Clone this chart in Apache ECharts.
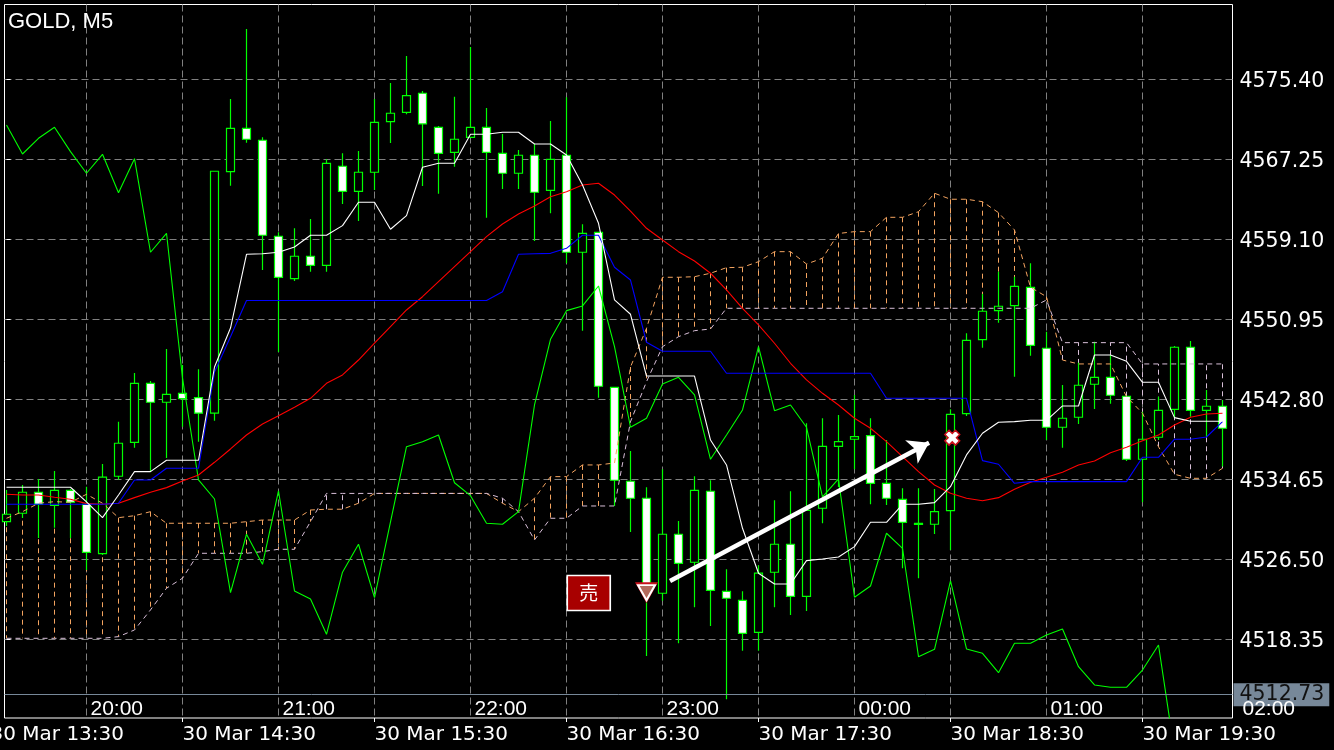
<!DOCTYPE html>
<html><head><meta charset="utf-8">
<style>html,body{margin:0;padding:0;background:#000;width:1334px;height:750px;overflow:hidden}#c{width:1334px;height:750px}</style>
<script src="https://cdn.jsdelivr.net/npm/echarts@6/dist/echarts.min.js"></script>
</head><body><div id="c"></div>
<script>
// [open, close, low, high] per 5 minute bar
const candles = [
[4530.35,4531.11,4529.91,4533.58],[4531.21,4533.35,4530.73,4534.09],[4533.35,4532.12,4528.69,4534.70],[4532.02,4533.55,4529.74,4535.52],
[4533.55,4532.33,4528.69,4533.68],[4532.12,4527.23,4525.43,4533.92],[4527.09,4534.88,4526.96,4536.23],[4534.98,4538.34,4534.63,4540.54],
[4538.44,4544.45,4537.89,4545.50],[4544.45,4542.52,4535.45,4544.69],[4542.52,4543.33,4536.84,4547.95],[4543.43,4542.88,4540.03,4546.32],
[4542.98,4541.40,4538.50,4545.88],[4541.40,4566.05,4540.64,4566.05],[4566.01,4570.43,4564.58,4573.41],[4570.43,4569.31,4568.96,4580.55],
[4569.21,4559.53,4555.99,4569.51],[4559.43,4555.25,4547.64,4559.83],[4555.11,4557.39,4554.87,4560.24],[4557.39,4556.47,4555.82,4561.19],
[4556.47,4566.86,4555.82,4567.27],[4566.56,4564.01,4562.72,4567.88],[4564.01,4565.95,4560.99,4568.12],[4565.95,4571.04,4564.14,4573.41],
[4571.10,4571.96,4568.93,4575.04],[4572.06,4573.75,4571.86,4577.79],[4574.00,4570.87,4564.55,4574.23],[4570.53,4567.88,4563.77,4570.66],
[4567.98,4569.31,4566.52,4573.65],[4569.51,4570.53,4569.44,4578.71],[4570.53,4567.98,4561.32,4572.50],[4567.88,4565.85,4564.25,4569.85],
[4565.85,4567.68,4564.25,4568.22],[4567.68,4563.91,4558.95,4568.83],[4564.11,4567.27,4561.77,4571.17],[4567.68,4557.80,4556.68,4573.59],
[4557.80,4559.73,4549.81,4560.65],[4559.83,4544.15,4542.98,4559.86],[4544.04,4534.57,4531.95,4544.07],[4534.47,4532.74,4529.30,4537.55],
[4532.74,4523.39,4516.67,4533.86],[4523.06,4529.07,4522.30,4535.69],[4529.07,4526.11,4517.96,4530.42],[4526.22,4533.55,4521.63,4534.98],
[4533.45,4523.36,4519.73,4534.57],[4523.26,4522.55,4512.26,4525.50],[4522.34,4518.98,4517.21,4523.26],[4519.08,4525.10,4517.21,4525.91],
[4525.20,4528.05,4521.63,4532.53],[4528.05,4522.75,4520.85,4533.45],[4522.75,4531.51,4521.25,4540.38],[4531.72,4538.03,4530.19,4540.89],
[4538.03,4538.50,4533.89,4541.22],[4538.75,4539.01,4535.69,4543.26],[4539.11,4534.26,4532.12,4540.89],[4534.26,4532.74,4532.05,4538.67],
[4532.63,4530.29,4525.60,4533.75],[4530.07,4530.17,4524.59,4533.75],[4530.09,4531.37,4529.10,4533.68],[4531.47,4541.29,4527.47,4541.80],
[4541.35,4548.83,4541.12,4549.54],[4548.89,4551.79,4548.08,4553.55],[4551.85,4552.30,4550.62,4555.82],[4552.36,4554.33,4545.12,4555.31],
[4554.23,4548.32,4547.26,4556.68],[4548.02,4539.97,4538.67,4549.71],[4539.97,4540.89,4537.89,4544.28],[4540.99,4544.25,4540.30,4546.55],
[4544.35,4545.06,4541.83,4548.69],[4545.06,4543.23,4542.37,4547.33],[4543.13,4536.71,4536.54,4543.16],[4536.71,4538.75,4532.33,4541.56],
[4538.95,4541.70,4538.67,4543.09],[4541.80,4548.12,4540.92,4548.25],[4548.12,4541.70,4541.05,4548.76],[4541.70,4542.11,4538.98,4543.77],
[4542.11,4539.87,4535.96,4542.75]];
const greenLine = [4570.77,4567.81,4569.41,4570.53,4568.05,4565.85,4567.78,4563.87,4567.33,4557.80,4559.73,4544.99,4534.60,4532.66,4523.12,4529.07,4526.01,4533.48,4523.29,4522.48,
4518.88,4525.20,4528.05,4522.61,4530.32,4537.99,4538.50,4539.18,4534.32,4533.00,4530.19,4530.09,4531.37,4542.24,4548.93,4551.85,4552.33,4554.36,4548.18,4539.97,
4540.89,4544.38,4545.06,4543.26,4536.71,4539.18,4541.73,4548.18,4541.66,4542.24,4539.97,4532.87,4534.70,4522.65,4523.80,4529.17,4527.64,4516.60,4517.35,4524.31,
4517.38,4516.94,4514.97,4517.96,4517.96,4518.81,4519.42,4515.58,4513.72,4513.48,4513.48,4515.24,4517.79,4506.92];
const whiteLine = [4533.86,4533.86,4533.86,4533.86,4533.86,4532.36,4530.76,4533.07,4535.45,4535.45,4536.61,4536.61,4536.61,4546.11,4550.08,4557.59,4557.65,4557.80,4558.34,4559.53,
4559.53,4560.51,4562.89,4562.89,4560.14,4561.53,4566.46,4566.86,4566.86,4569.82,4569.82,4570.02,4570.02,4568.83,4568.83,4567.71,4564.65,4560.75,4552.94,4551.48,
4545.19,4545.19,4545.19,4545.19,4538.67,4536.13,4529.68,4525.10,4524.00,4524.00,4526.38,4526.55,4526.76,4527.81,4530.29,4530.29,4532.12,4532.12,4532.29,4533.92,
4537.15,4539.36,4540.48,4540.54,4540.68,4540.68,4542.14,4542.14,4547.33,4547.33,4546.69,4544.55,4544.55,4540.95,4540.58,4540.58,4540.58];
const blueLine = [4532.12,4532.12,4532.12,4532.12,4532.12,4532.12,4532.12,4532.23,4534.60,4534.60,4535.79,4535.79,4535.79,4545.60,4549.20,
4552.89,4552.89,4552.89,4552.89,4552.89,4552.89,4552.89,4552.89,4552.89,4552.89,4552.89,4552.89,4552.89,4552.89,4552.89,4552.89,
4553.78,4557.59,4557.65,4557.69,4558.20,4559.53,4559.53,4556.27,4554.97,4548.63,4547.71,4547.71,4547.71,4547.71,
4545.47,4545.47,4545.47,4545.47,4545.47,4545.47,4545.47,4545.47,4545.47,4545.47,4542.92,4542.92,4542.92,4542.92,4542.92,4542.92,
4536.57,4536.20,4534.26,4534.43,4534.43,4534.43,4534.43,4534.43,4534.43,4534.43,4536.91,4536.91,4538.75,4538.75,4538.98,4540.54];
const redLine = [4533.14,4533.07,4533.07,4532.84,4532.63,4532.19,4532.12,4532.23,4532.80,4533.35,4533.82,4534.50,4535.11,4536.40,4537.76,4539.18,4540.30,4541.15,4542.01,4542.92,
4544.45,4545.30,4546.82,4548.53,4550.22,4551.92,4553.27,4554.80,4556.33,4557.86,4559.39,4560.68,4561.70,4562.51,4563.46,4563.97,4564.65,4564.83,4563.63,4562.00,
4560.24,4559.05,4557.86,4556.91,4555.66,4553.96,4552.09,4550.39,4548.53,4546.49,4544.79,4543.43,4542.24,4540.89,4539.87,4538.50,4536.97,4535.45,4534.09,4533.25,
4532.74,4532.49,4532.80,4533.65,4534.37,4534.88,4535.38,4536.13,4536.54,4537.38,4537.93,4538.60,4539.18,4540.20,4540.99,4541.32,4541.40];
const spanA = [4530.70,4531.37,4532.23,4532.39,4532.33,4533.14,4532.23,4530.76,4530.96,4531.37,4530.19,4530.19,4530.19,4530.19,4530.19,4530.35,4530.52,4530.52,4530.52,4531.54,
4531.62,4531.62,4532.23,4533.23,4533.23,4533.23,4533.23,4533.23,4533.23,4533.23,4533.23,4532.23,4531.37,4532.74,4534.94,4534.94,4536.13,4536.13,4536.33,4546.11,
4550.05,4555.25,4555.25,4555.31,4555.66,4556.23,4556.27,4556.84,4557.86,4557.86,4556.60,4557.19,4559.71,4559.90,4559.90,4561.36,4561.36,4561.93,4563.81,4563.20,
4563.20,4562.95,4561.83,4560.07,4554.23,4553.27,4546.82,4546.42,4546.42,4546.42,4543.09,4541.40,4537.99,4535.18,4534.77,4534.77,4535.79];
const spanB = [4518.47,4518.47,4518.47,4518.47,4518.47,4518.47,4518.47,4518.64,4519.32,4521.36,4523.57,4524.59,4527.13,4527.13,4527.13,4527.13,4527.30,4527.54,4527.54,4530.35,
4533.23,4533.23,4533.23,4533.23,4533.23,4533.23,4533.23,4533.23,4533.23,4533.23,4533.23,4532.74,4531.37,4528.49,4530.70,4530.70,4531.95,4531.95,4531.95,4540.54,
4544.61,4548.18,4549.20,4549.81,4549.98,4552.09,4552.09,4552.09,4552.09,4552.09,4552.09,4552.09,4552.09,4552.09,4552.09,4552.09,4552.09,4552.09,4552.09,4552.09,
4552.09,4552.09,4552.09,4552.09,4552.09,4552.94,4548.59,4548.59,4548.59,4548.59,4548.59,4546.42,4546.42,4546.42,4546.42,4546.42,4546.42];
const priceTicks = [4518.35,4526.50,4534.65,4542.80,4550.95,4559.10,4567.25,4575.40];
const gridBars = [5,11,17,23,29,35,41,47,53,59,65,71];
const hourBars = [5,17,29,41,53,65,77];
const hourLabels = ['20:00','21:00','22:00','23:00','00:00','01:00','02:00'];
const dateBars = [-1,11,23,35,47,59,71];
const dateLabels = ['30 Mar 13:30','30 Mar 14:30','30 Mar 15:30','30 Mar 16:30','30 Mar 17:30','30 Mar 18:30','30 Mar 19:30'];
const bidPrice = 4512.73;
const arrowLine = [[41.47,4524.31],[57.66,4538.40]];
const sellMark = [40,4523.12];
const closeMark = [59.11,4538.91];
const sellTag = [36.39,4523.09];

const LIME='#00ff00', ORANGE='#f4a460', THISTLE='#d8bfd8', GRID='#808080', SLATE='#778899';
const sans='"Liberation Sans",sans-serif', wide='"DejaVu Sans",sans-serif';
const pairs = a => a.map((v,i)=>[i,v]);
const line = (name,arr,color,extra) => Object.assign({name,type:'line',data:pairs(arr),showSymbol:false,symbol:'none',silent:true,
  lineStyle:{color,width:1.1},itemStyle:{color},clip:true},extra||{});

const chart = echarts.init(document.getElementById('c'),null,{renderer:'canvas'});
chart.setOption({
  animation:false, backgroundColor:'#000',
  title:{text:'GOLD, M5',left:8,top:11,padding:0,textStyle:{color:'#fff',fontFamily:sans,fontWeight:'normal',fontSize:22}},
  grid:[
    {left:4.5,top:4.5,width:1228,height:713.5,show:true,borderColor:'#fff',borderWidth:1,backgroundColor:'#000',outerBoundsMode:'none'},
    {left:-9.5,top:4.5,width:1343.5,height:713.5,show:false,outerBoundsMode:'none'}
  ],
  xAxis:[
    {type:'value',gridIndex:0,position:'bottom',min:-0.125,max:76.625,axisLine:{show:false},axisLabel:{show:false},
     axisTick:{show:false,customValues:gridBars},
     splitLine:{show:true,lineStyle:{color:GRID,type:[7,4],width:1}}},
    {type:'value',gridIndex:1,position:'bottom',min:-1,max:82.96875,z:20,axisLine:{show:false},splitLine:{show:false},
     axisTick:{show:true,length:4,lineStyle:{color:'#fff'},customValues:dateBars},
     axisLabel:{show:true,customValues:dateBars,color:'#fff',fontFamily:wide,fontSize:20,align:'left',margin:7,
       formatter:v=>dateLabels[dateBars.indexOf(v)]}},
    {type:'value',gridIndex:1,position:'bottom',min:-1,max:82.96875,z:20,axisLine:{show:false},splitLine:{show:false},
     axisTick:{show:false},
     axisLabel:{show:true,inside:true,customValues:hourBars,color:'#fff',fontFamily:sans,fontSize:21,align:'left',margin:-2,padding:[0,0,0,4],
       formatter:v=>hourLabels[hourBars.indexOf(v)]}}
  ],
  yAxis:[
    {type:'value',gridIndex:0,position:'right',min:4510.35,max:4583.04,axisLine:{show:false},
     axisTick:{show:true,length:4,lineStyle:{color:'#fff'},customValues:priceTicks},
     axisLabel:{show:true,customValues:priceTicks,color:'#fff',fontFamily:wide,fontSize:20.5,margin:7,verticalAlign:'top',lineHeight:5,formatter:v=>v.toFixed(2)},
     splitLine:{show:true,lineStyle:{color:GRID,type:[7,4],width:1}}},
    {type:'value',gridIndex:1,min:4510.35,max:4583.04,show:false}
  ],
  series:[
    {name:'GOLD',type:'candlestick',data:candles.map((c,i)=>[i,c[0],c[1],c[2],c[3]]),barWidth:8,silent:true,clip:true,
     itemStyle:{color:'#000',color0:'#fff',borderColor:LIME,borderColor0:LIME,borderWidth:1.2}},
    {name:'hatch',type:'custom',silent:true,clip:true,data:spanA.map((a,i)=>[i,a,spanB[i]]),encode:{x:0,y:[1,2]},
     renderItem:(p,api)=>{const a=api.coord([api.value(0),api.value(1)]),b=api.coord([api.value(0),api.value(2)]);
       return {type:'line',shape:{x1:a[0],y1:a[1],x2:b[0],y2:b[1]},
         style:{stroke:api.value(1)>=api.value(2)?ORANGE:THISTLE,lineWidth:1,lineDash:[5,4],fill:null}};}},
    line('Senkou A',spanA,ORANGE,{lineStyle:{color:ORANGE,width:1,type:[5,4]}}),
    line('Senkou B',spanB,THISTLE,{lineStyle:{color:THISTLE,width:1,type:[5,4]}}),
    line('Chikou',greenLine,LIME),
    line('MA',redLine,'#ff0000'),
    line('Kijun',blueLine,'#0000ff'),
    line('Tenkan',whiteLine,'#ffffff',{
      markLine:{silent:true,symbol:'none',animation:false,
        lineStyle:{color:SLATE,width:1,type:'solid'},
        label:{show:true,position:'end',formatter:bidPrice.toFixed(2),color:'#111',backgroundColor:SLATE,fontFamily:wide,fontSize:20.5,
          padding:[1,5,1,6],distance:1},
        data:[{yAxis:bidPrice}]}}),
    {name:'Arrow',type:'line',data:[],silent:true,
     markLine:{silent:true,symbol:['none','arrow'],symbolSize:20,animation:false,lineStyle:{color:'#fff',width:4.5,type:'solid'},label:{show:false},
       data:[[{coord:arrowLine[0]},{coord:arrowLine[1]}]]}},
    {name:'sellRed',type:'scatter',data:[sellMark],symbol:'triangle',symbolRotate:180,symbolSize:[23,21],silent:true,z:6,itemStyle:{color:'#c8101a',opacity:1}},
    {name:'sellWhite',type:'scatter',data:[sellMark],symbol:'triangle',symbolRotate:180,symbolSize:[17,15],silent:true,z:7,
     itemStyle:{color:'#b46a5c',borderColor:'#fff',borderWidth:2,opacity:1}},
    {name:'closeMark',type:'scatter',data:[closeMark],symbol:'path://M3 0h4v3h3v4H7v3H3V7H0V3h3z',symbolRotate:45,symbolSize:15,silent:true,z:7,
     itemStyle:{color:'#fff',borderColor:'#c8101a',borderWidth:1.5,opacity:1}},
    {name:'sellTag',type:'scatter',data:[sellTag],symbol:'rect',symbolSize:[43,35],silent:true,z:7,
     itemStyle:{color:'#a80000',borderColor:'#fff',borderWidth:1.5,opacity:1},
     label:{show:true,position:'inside',formatter:'売',color:'#fff',fontFamily:'"Noto Sans CJK JP"',fontSize:19}}
  ]
});
</script></body></html>
